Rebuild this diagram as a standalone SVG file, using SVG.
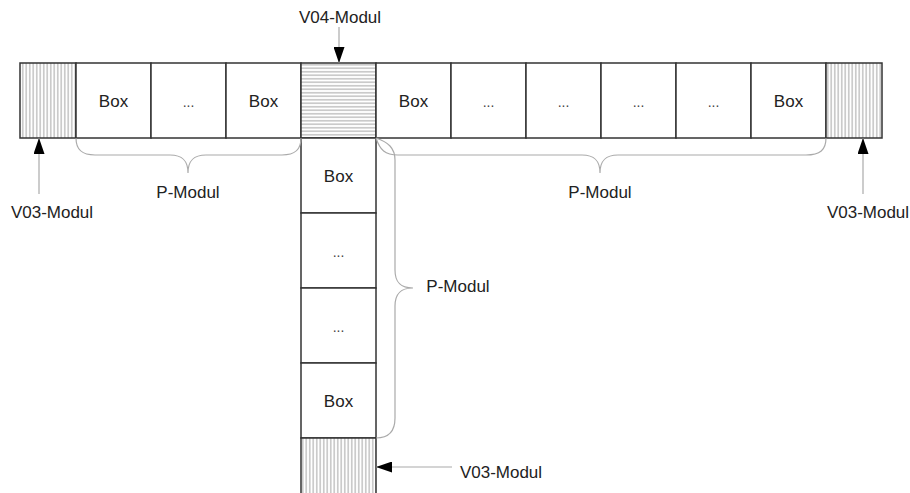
<svg xmlns="http://www.w3.org/2000/svg" width="910" height="493" viewBox="0 0 910 493">
<style>
.box{fill:#fff;stroke:#333;stroke-width:1.5}
.t{font-family:"Liberation Sans",Arial,sans-serif;font-size:17px;fill:#222;text-anchor:middle}
.d{font-family:"Liberation Sans",Arial,sans-serif;font-size:14px;fill:#444;text-anchor:middle}
.brace{fill:none;stroke:#aaa;stroke-width:1.2}
.arr{fill:none;stroke:#aaa;stroke-width:1.2;marker-end:url(#ah)}
</style>
<defs>
<pattern id="vh" width="3.5" height="10" patternUnits="userSpaceOnUse">
<rect width="3.5" height="10" fill="#fff"/>
<line x1="1.75" y1="0" x2="1.75" y2="10" stroke="#999" stroke-width="0.9"/>
</pattern>
<pattern id="hh" width="10" height="3.5" patternUnits="userSpaceOnUse">
<rect width="10" height="3.5" fill="#fff"/>
<line x1="0" y1="1.75" x2="10" y2="1.75" stroke="#999" stroke-width="0.9"/>
</pattern>
<marker id="ah" markerWidth="16" markerHeight="11" refX="16" refY="5.5" viewBox="0 0 16 11" markerUnits="userSpaceOnUse" orient="auto">
<path d="M0,0 L16,5.5 L0,11 Z" fill="#000"/>
</marker>
</defs>

<g id="v03-left"><rect class="box" x="20" y="63" width="56" height="75" style="fill:url(#vh)"/></g>
<g id="box-l1"><rect class="box" x="76" y="63" width="75" height="75"/><text class="t" x="113.5" y="107">Box</text></g>
<g id="box-l2"><rect class="box" x="151" y="63" width="75" height="75"/><text class="d" x="188.5" y="107">...</text></g>
<g id="box-l3"><rect class="box" x="226" y="63" width="75" height="75"/><text class="t" x="263.5" y="107">Box</text></g>
<g id="v04"><rect class="box" x="301" y="63" width="75" height="75" style="fill:url(#hh)"/></g>
<g id="box-r1"><rect class="box" x="376" y="63" width="75" height="75"/><text class="t" x="413.5" y="107">Box</text></g>
<g id="box-r2"><rect class="box" x="451" y="63" width="75" height="75"/><text class="d" x="488.5" y="107">...</text></g>
<g id="box-r3"><rect class="box" x="526" y="63" width="75" height="75"/><text class="d" x="563.5" y="107">...</text></g>
<g id="box-r4"><rect class="box" x="601" y="63" width="75" height="75"/><text class="d" x="638.5" y="107">...</text></g>
<g id="box-r5"><rect class="box" x="676" y="63" width="75" height="75"/><text class="d" x="713.5" y="107">...</text></g>
<g id="box-r6"><rect class="box" x="751" y="63" width="75" height="75"/><text class="t" x="788.5" y="107">Box</text></g>
<g id="v03-right"><rect class="box" x="826" y="63" width="56" height="75" style="fill:url(#vh)"/></g>

<g id="box-v1"><rect class="box" x="301" y="138" width="75" height="75"/><text class="t" x="338.5" y="182">Box</text></g>
<g id="box-v2"><rect class="box" x="301" y="213" width="75" height="75"/><text class="d" x="338.5" y="257">...</text></g>
<g id="box-v3"><rect class="box" x="301" y="288" width="75" height="75"/><text class="d" x="338.5" y="332">...</text></g>
<g id="box-v4"><rect class="box" x="301" y="363" width="75" height="75"/><text class="t" x="338.5" y="407">Box</text></g>
<g id="v03-bottom"><rect class="box" x="301" y="438" width="75" height="60" style="fill:url(#vh)"/></g>

<g id="connectors">
<path class="brace" d="M76,138 C76,150 82,155 95,155 L170,155 C182,155 188,160 188,173 C188,160 194,155 206,155 L282,155 C295,155 301,150 301,138"/>
<path class="brace" d="M376,138 C380,150 385,155 398,155 L582,155 C594,155 600,160 600,173 C600,160 606,155 618,155 L806,155 C820,155 826,150 826,138"/>
<path class="brace" d="M376,138 C388,142 395,148 395,160 L395,270 C395,282 400,288 413,288 C400,288 395,294 395,306 L395,418 C395,432 388,438 376,438"/>
<line class="arr" x1="339" y1="27" x2="339" y2="63"/>
<line class="arr" x1="39" y1="194" x2="39" y2="138"/>
<line class="arr" x1="863" y1="194" x2="863" y2="138"/>
<line class="arr" x1="452" y1="467" x2="376" y2="467"/>
</g>

<g id="labels">
<text class="t" x="340" y="23">V04-Modul</text>
<text class="t" x="52" y="218">V03-Modul</text>
<text class="t" x="868" y="218">V03-Modul</text>
<text class="t" x="501" y="478">V03-Modul</text>
<text class="t" x="188" y="198">P-Modul</text>
<text class="t" x="600" y="198">P-Modul</text>
<text class="t" x="458" y="292">P-Modul</text>
</g>
</svg>
